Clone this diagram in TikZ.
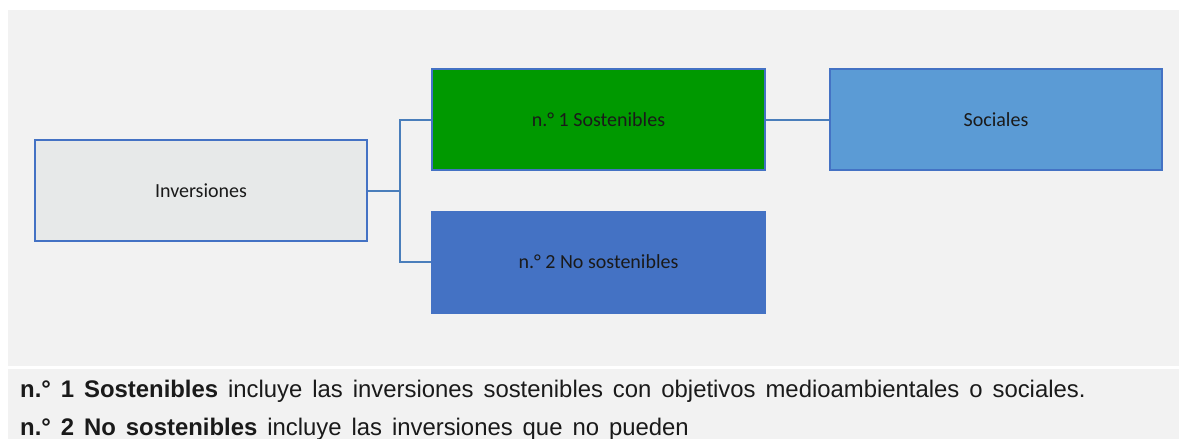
\documentclass[tikz,border=0pt]{standalone}
\usepackage{fontspec}
\setmainfont{Carlito}
\newfontfamily\notefont[FakeStretch=0.995,WordSpace=1.5]{Liberation Sans}
\definecolor{panel}{RGB}{242,242,242}
\definecolor{boxline}{RGB}{68,114,196}
\definecolor{connline}{RGB}{74,126,187}
\definecolor{invfill}{RGB}{231,233,233}
\definecolor{greenfill}{RGB}{0,153,0}
\definecolor{bluefill}{RGB}{68,114,196}
\definecolor{lightblue}{RGB}{91,155,213}
\definecolor{txt}{RGB}{26,26,26}
\tikzset{
  box/.style={draw=boxline, line width=2pt, minimum width=332pt, minimum height=101pt, inner sep=0pt, font=\fontsize{20}{24}\selectfont, text=txt},
  conn/.style={draw=connline, line width=2pt},
  note/.style={anchor=base west, inner sep=0pt, font=\notefont\fontsize{24}{28}\selectfont, text=txt}
}
\begin{document}
\begin{tikzpicture}[x=1pt,y=-1pt]
\useasboundingbox (0,0) rectangle (1179,439);
\fill[white] (0,0) rectangle (1179,439);
\fill[panel] (8,10) rectangle (1179,366);
\fill[panel] (8,369) rectangle (1179,439);
\node[box, fill=invfill] (inv) at (201,190.5) {Inversiones};
\node[box, fill=greenfill, minimum width=333pt] (s1) at (598.5,119.5) {n.° 1 Sostenibles};
\node[box, fill=bluefill, draw=bluefill, minimum width=333pt] (s2) at (598.5,262) {n.° 2 No sostenibles};
\node[box, fill=lightblue] (soc) at (996,119.5) {Sociales};
\coordinate (fork) at (400,190.5);
\draw[conn] (inv.east) -- (fork) |- (s1.west);
\draw[conn] (fork) |- (s2.west);
\draw[conn] (s1.east) -- (soc.west);
\node[note] (n1) at (20,397) {\textbf{n.° 1 Sostenibles} incluye las inversiones sostenibles con objetivos medioambientales o sociales.};
\node[note] (n2) at (20,435) {\textbf{n.° 2 No sostenibles} incluye las inversiones que no pueden};
\end{tikzpicture}
\end{document}
